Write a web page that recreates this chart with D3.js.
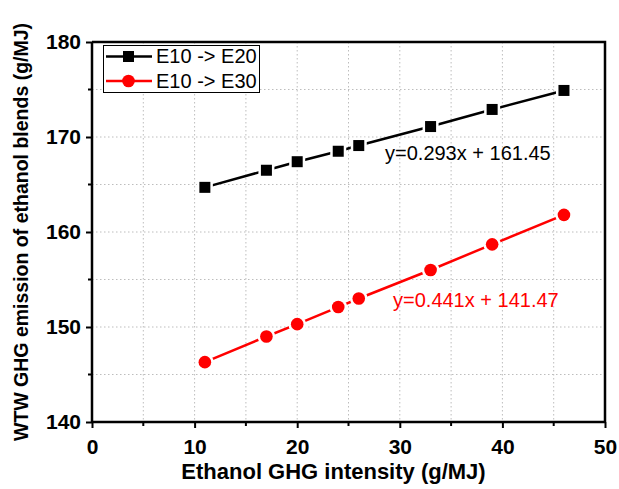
<!DOCTYPE html>
<html>
<head>
<meta charset="utf-8">
<script src="https://cdn.jsdelivr.net/npm/d3@7"></script>
<style>
  body { margin: 0; background: #fff; }
  text { font-family: Arial, "Liberation Sans", sans-serif; }
</style>
</head>
<body>
<div id="chart"></div>
<script>
"use strict"

// data
let intensity = [11, 17, 20, 24, 26, 33, 39, 46];
let blendE20 = [164.7, 166.5, 167.4, 168.5, 169.1, 171.1, 172.9, 174.9];
let blendE30 = [146.3, 149.0, 150.3, 152.1, 153.0, 156.0, 158.7, 161.8];
let seriesNames = ["E10 -> E20", "E10 -> E30"];
let fitLabels = ["y=0.293x + 161.45", "y=0.441x + 141.47"];
let xTicks = [0, 10, 20, 30, 40, 50];
let yTicks = [140, 150, 160, 170, 180];

let width = 619;
let height = 489;
let plotLeft = 92, plotRight = 605, plotTop = 42, plotBottom = 422;

let svg = d3.select("#chart")
    .append("svg")
    .attr("width", width)
    .attr("height", height);

let x = d3.scaleLinear().domain([0, 50]).range([plotLeft, plotRight]);
let y = d3.scaleLinear().domain([140, 180]).range([plotBottom, plotTop]);

// dotted grid, every 5 units
let grid = svg.append("g");
grid.selectAll(".gx")
    .data(d3.range(5, 50, 5))
    .join("line")
    .attr("x1", d => x(d)).attr("x2", d => x(d))
    .attr("y1", plotTop).attr("y2", plotBottom)
    .attr("stroke", "#bdbdbd")
    .attr("stroke-width", 1)
    .attr("stroke-dasharray", "1.5,2.5");
grid.selectAll(".gy")
    .data(d3.range(145, 180, 5))
    .join("line")
    .attr("y1", d => y(d)).attr("y2", d => y(d))
    .attr("x1", plotLeft).attr("x2", plotRight)
    .attr("stroke", "#bdbdbd")
    .attr("stroke-width", 1)
    .attr("stroke-dasharray", "1.5,2.5");

// frame top + right
svg.append("path")
    .attr("d", `M${plotLeft},${plotTop}H${plotRight}V${plotBottom}`)
    .attr("fill", "none")
    .attr("stroke", "black")
    .attr("stroke-width", 2.5);

// x axis
let xAxis = svg.append("g")
    .attr("transform", `translate(0,${plotBottom})`)
    .call(d3.axisBottom(x).tickValues(xTicks).tickSize(6).tickPadding(11));
xAxis.append("g").selectAll("line")
    .data(d3.range(5, 50, 10))
    .join("line")
    .attr("x1", d => x(d)).attr("x2", d => x(d))
    .attr("y1", 0).attr("y2", 4)
    .attr("stroke", "black").attr("stroke-width", 2);

// y axis
let yAxis = svg.append("g")
    .attr("transform", `translate(${plotLeft},0)`)
    .call(d3.axisLeft(y).tickValues(yTicks).tickSize(6).tickPadding(5));
yAxis.append("g").selectAll("line")
    .data(d3.range(145, 180, 10))
    .join("line")
    .attr("y1", d => y(d)).attr("y2", d => y(d))
    .attr("x1", 0).attr("x2", -4)
    .attr("stroke", "black").attr("stroke-width", 2);

[xAxis, yAxis].forEach(a => {
    a.select(".domain").attr("stroke-width", 2.5);
    a.selectAll(".tick line").attr("stroke-width", 2);
    a.selectAll(".tick text")
        .attr("font-size", 21)
        .attr("font-weight", "bold")
        .attr("fill", "black");
});
xAxis.select(".domain").attr("d", `M${plotLeft},0H${plotRight}`);
yAxis.select(".domain").attr("d", `M0,${plotTop}V${plotBottom}`);

// axis titles
svg.append("text")
    .attr("x", 333.5)
    .attr("y", 479)
    .attr("text-anchor", "middle")
    .attr("font-size", 22)
    .attr("font-weight", "bold")
    .text("Ethanol GHG intensity (g/MJ)");

svg.append("text")
    .attr("transform", `translate(27.5,${(plotTop + plotBottom) / 2}) rotate(-90)`)
    .attr("text-anchor", "middle")
    .attr("font-size", 19.5)
    .attr("font-weight", "bold")
    .text("WTW GHG emission of ethanol blends (g/MJ)");

// series
let series = [
    { values: blendE20, color: "black", shape: "square" },
    { values: blendE30, color: "red", shape: "circle" }
];

let line = d3.line()
    .x(d => x(d[0]))
    .y(d => y(d[1]));

function drawMarker(g, shape, cx, cy, color, pad) {
    if (shape === "square") {
        let s = 11 + pad * 2;
        g.append("rect")
            .attr("x", cx - s / 2).attr("y", cy - s / 2)
            .attr("width", s).attr("height", s)
            .attr("fill", color);
    } else {
        g.append("circle")
            .attr("cx", cx).attr("cy", cy)
            .attr("r", 6.3 + pad)
            .attr("fill", color);
    }
}

series.forEach(s => {
    let pts = intensity.map((v, i) => [v, s.values[i]]);
    svg.append("path")
        .attr("d", line(pts))
        .attr("fill", "none")
        .attr("stroke", s.color)
        .attr("stroke-width", 2.5);
    let g = svg.append("g");
    pts.forEach(p => {
        drawMarker(g, s.shape, x(p[0]), y(p[1]), "white", 2.5);
        drawMarker(g, s.shape, x(p[0]), y(p[1]), s.color, 0);
    });
});

// fit equations
svg.append("text")
    .attr("x", x(28.56)).attr("y", y(167.6))
    .attr("font-size", 20)
    .attr("fill", "black")
    .text(fitLabels[0]);
svg.append("text")
    .attr("x", x(29.34)).attr("y", y(152.1))
    .attr("font-size", 20)
    .attr("fill", "red")
    .text(fitLabels[1]);

// legend
let legend = svg.append("g");
legend.append("rect")
    .attr("x", 103.5).attr("y", 45.5)
    .attr("width", 156).attr("height", 47)
    .attr("fill", "white")
    .attr("stroke", "black")
    .attr("stroke-width", 1);
series.forEach((s, i) => {
    let ly = 56.5 + i * 24.5;
    legend.append("line")
        .attr("x1", 106).attr("x2", 152)
        .attr("y1", ly).attr("y2", ly)
        .attr("stroke", s.color)
        .attr("stroke-width", 2.5);
    drawMarker(legend, s.shape, 128.5, ly, s.color, 0);
    legend.append("text")
        .attr("x", 156).attr("y", ly + 6.5)
        .attr("font-size", 20)
        .attr("fill", "black")
        .text(seriesNames[i]);
});
</script>
</body>
</html>
